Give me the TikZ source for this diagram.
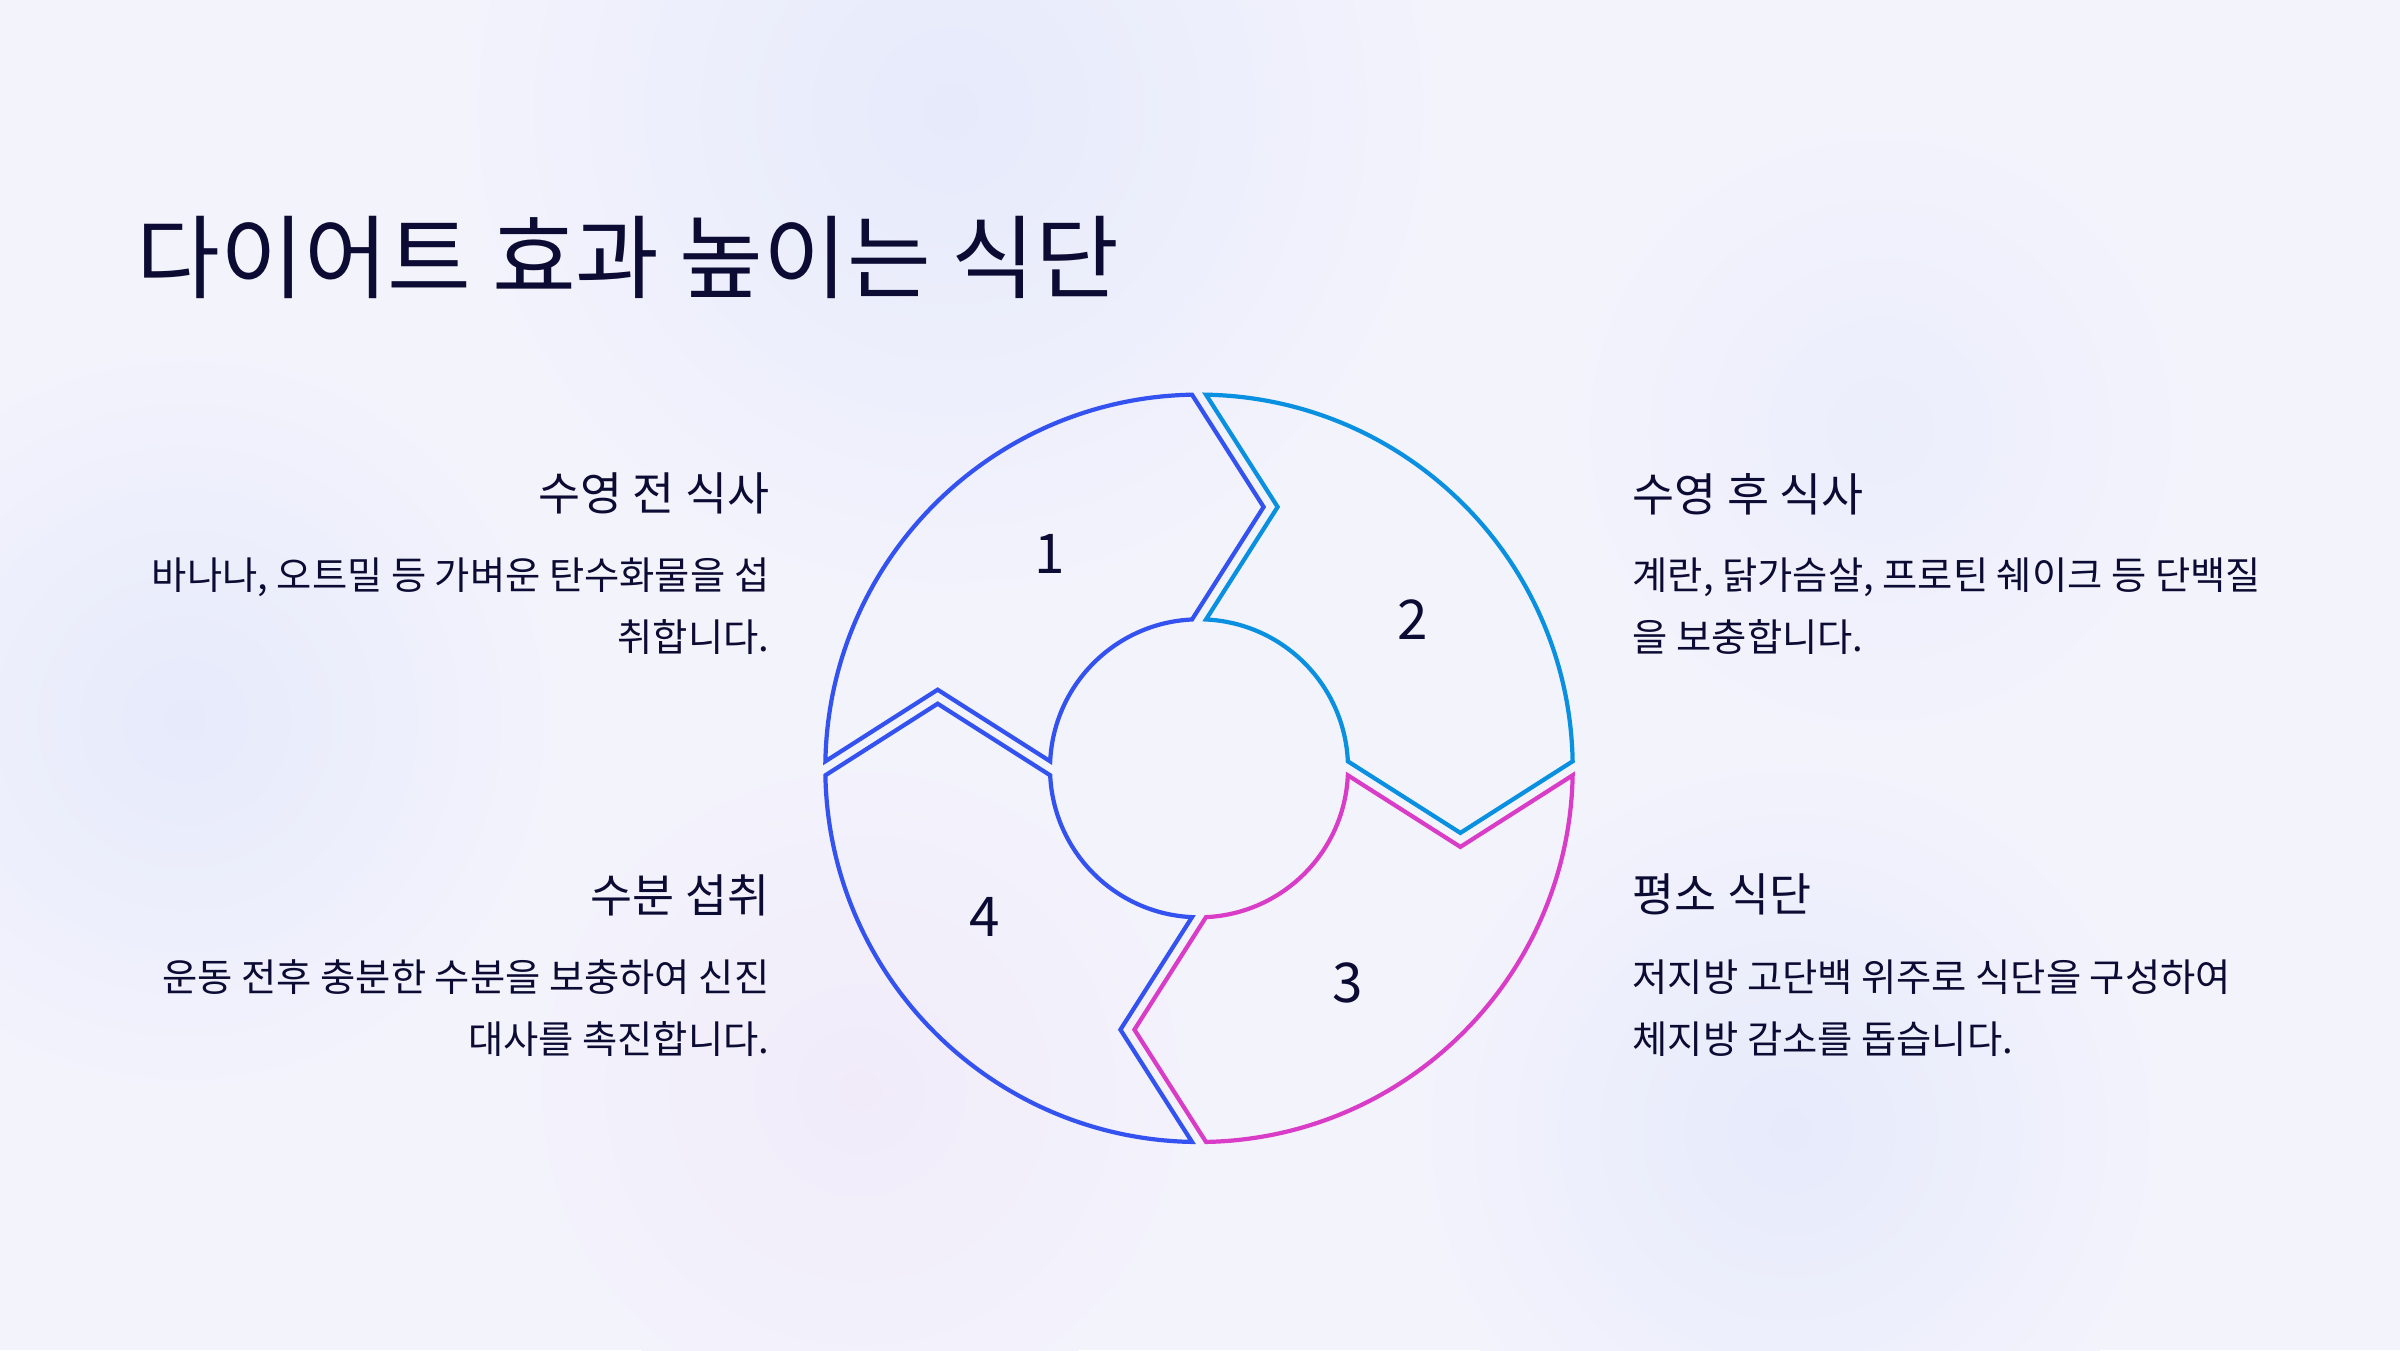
\documentclass[tikz,border=0pt]{standalone}
\usepackage{fontspec}
\setmainfont{Noto Sans CJK KR}
\usepackage{xcolor}
\usepackage{tikz}
\usetikzlibrary{positioning,calc}
\definecolor{bgc}{HTML}{F3F3FC}
\definecolor{blobblue}{HTML}{E6EAFB}
\definecolor{blobpink}{HTML}{F1EBF9}
\definecolor{ink}{HTML}{0B0B33}
\definecolor{segblue}{HTML}{3352F0}
\definecolor{segcyan}{HTML}{0A90E0}
\definecolor{segpink}{HTML}{D93CC6}
\tikzset{
maintitle/.style={
anchor=base west,
inner sep=0pt,
text=ink,
font=\fontsize{25.9}{31}\selectfont
},
heading/.style={
inner sep=0pt,
text=ink,
font=\fontsize{13}{16}\selectfont
},
bodytext/.style={
inner sep=0pt,
text=ink,
font=\fontsize{10.9}{17.64}\selectfont
},
segline/.style={
line width=1.2pt,
line join=miter
},
segnum/.style={
inner sep=0pt,
text=ink,
font=\fontsize{15.6}{18}\selectfont
}
}

\begin{document}
\begin{tikzpicture}
\useasboundingbox (0,0) rectangle (24,13.5);
\fill[bgc] (0,0) rectangle (24,13.5);
% soft background blobs
\shade[inner color=blobblue, outer color=bgc] (9.5,12.4) circle (5);
\shade[inner color=blobblue, outer color=bgc] (1.85,6.3) circle (3.8);
\shade[inner color=blobblue, outer color=bgc] (17.9,2.2) circle (3.8);
\shade[inner color=blobblue!60!bgc, outer color=bgc] (18.8,9.2) circle (3.2);
\shade[inner color=blobpink, outer color=bgc] (8.6,2.6) circle (3.4);

\node[maintitle] (title) at (1.36,10.58) {다이어트 효과 높이는 식단};

% ring of four arrow segments
\coordinate (ctr) at (11.99,5.817);
\pgfmathsetmacro\Ro{3.737}
\pgfmathsetmacro\Ri{1.49}
\pgfmathsetmacro\gap{0.07}
\pgfmathsetmacro\mid{(\Ro+\Ri)/2}
\pgfmathsetmacro\ao{asin(\gap/\Ro)}
\pgfmathsetmacro\ai{asin(\gap/\Ri)}
\pgfmathsetmacro\tipx{0.716-\gap}
\pgfmathsetmacro\notchy{0.716+\gap}
\foreach \k/\col/\rot in {1/segblue/0,2/segcyan/-90,3/segpink/-180,4/segblue/-270}{
\begin{scope}[shift={(ctr)},rotate=\rot]
\draw[segline,draw=\col] (180-\ao:\Ro) arc[start angle=180-\ao,end angle=90+\ao,radius=\Ro]
-- (\tipx,\mid) -- (90+\ai:\Ri) arc[start angle=90+\ai,end angle=180-\ai,radius=\Ri]
-- (-\mid,\notchy) -- cycle;
\node[segnum] (n\k) at (124.85:2.61) {\k};
\end{scope}
}

% left column
\node[heading,anchor=base east] (h1) at (7.70,8.40) {수영 전 식사};
\node[bodytext,anchor=north east,align=right] (b1) at (7.70,7.93) {바나나, 오트밀 등 가벼운 탄수화물을 섭\\취합니다.};
\node[heading,anchor=base east] (h4) at (7.70,4.38) {수분 섭취};
\node[bodytext,anchor=north east,align=right] (b4) at (7.70,3.91) {운동 전후 충분한 수분을 보충하여 신진\\대사를 촉진합니다.};

% right column
\node[heading,anchor=base west] (h2) at (16.32,8.39) {수영 후 식사};
\node[bodytext,anchor=north west,align=left] (b2) at (16.32,7.93) {계란, 닭가슴살, 프로틴 쉐이크 등 단백질\\을 보충합니다.};
\node[heading,anchor=base west] (h3) at (16.32,4.39) {평소 식단};
\node[bodytext,anchor=north west,align=left] (b3) at (16.32,3.91) {저지방 고단백 위주로 식단을 구성하여\\체지방 감소를 돕습니다.};
\end{tikzpicture}
\end{document}
